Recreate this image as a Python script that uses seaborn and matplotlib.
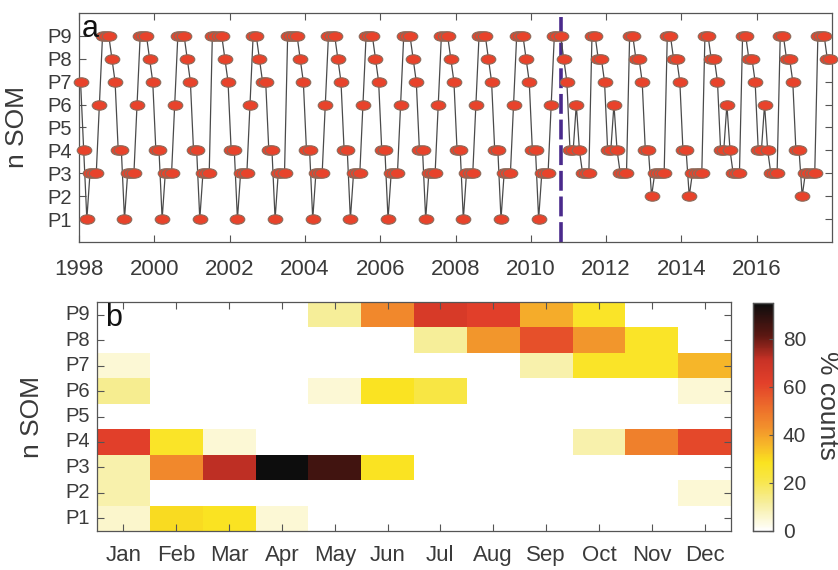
import numpy as np
import pandas as pd
import matplotlib
matplotlib.use("Agg")
import matplotlib.pyplot as plt
import seaborn as sns
from matplotlib.path import Path
from matplotlib.transforms import Affine2D
from matplotlib.colors import LinearSegmentedColormap

# ---------------- data ----------------
# panel a: monthly SOM pattern (Jan..Dec) for each year
s1998 = [7, 4, 1, 3, 3, 3, 6, 9, 9, 9, 8, 7]
s1999 = [4, 4, 1, 3, 3, 3, 6, 9, 9, 9, 8, 7]
s2000 = [4, 4, 1, 3, 3, 3, 6, 9, 9, 9, 8, 7]
s2001 = [4, 4, 1, 3, 3, 3, 9, 9, 9, 9, 8, 7]
s2002 = [4, 4, 1, 3, 3, 3, 6, 9, 9, 8, 7, 7]
s2003 = [4, 4, 1, 3, 3, 3, 9, 9, 9, 9, 8, 7]
s2004 = [4, 4, 1, 3, 3, 3, 6, 9, 9, 9, 8, 7]
s2005 = [4, 4, 1, 3, 3, 3, 6, 9, 9, 9, 8, 7]
s2006 = [4, 4, 1, 3, 3, 3, 6, 9, 9, 9, 8, 7]
s2007 = [4, 4, 1, 3, 3, 3, 6, 9, 9, 9, 8, 7]
s2008 = [4, 4, 1, 3, 3, 3, 6, 9, 9, 9, 8, 7]
s2009 = [4, 4, 1, 3, 3, 3, 6, 9, 9, 9, 8, 7]
s2010 = [4, 4, 1, 3, 3, 3, 6, 9, 9, 9, 8, 7]
s2011 = [4, 4, 6, 4, 3, 3, 3, 9, 9, 8, 8, 7]
s2012 = [4, 4, 6, 4, 3, 3, 3, 9, 9, 8, 8, 7]
s2013 = [4, 4, 2, 3, 3, 3, 3, 9, 9, 8, 8, 7]
s2014 = [4, 4, 2, 3, 3, 3, 3, 9, 9, 8, 8, 7]
s2015 = [4, 4, 6, 4, 3, 3, 3, 9, 9, 8, 8, 7]
s2016 = [4, 4, 6, 4, 3, 3, 3, 9, 9, 8, 8, 7]
s2017 = [4, 4, 2, 3, 3, 3, 3, 9, 9, 9, 8, 8]
years = list(range(1998, 2018))
year_series = [s1998, s1999, s2000, s2001, s2002, s2003, s2004, s2005, s2006, s2007,
               s2008, s2009, s2010, s2011, s2012, s2013, s2014, s2015, s2016, s2017]
shift_year, shift_month = 2010, 10          # regime change marker (dashed line)
year_ticks = list(range(1998, 2017, 2))

# panel b: % counts per month for each SOM pattern
months = ["Jan", "Feb", "Mar", "Apr", "May", "Jun", "Jul", "Aug", "Sep", "Oct", "Nov", "Dec"]
som_labels = ["P1", "P2", "P3", "P4", "P5", "P6", "P7", "P8", "P9"]
pct_P1 = [6, 30, 28, 5, 0, 0, 0, 0, 0, 0, 0, 0]
pct_P2 = [10, 0, 0, 0, 0, 0, 0, 0, 0, 0, 0, 5]
pct_P3 = [10, 45, 72, 95, 86, 28, 0, 0, 0, 0, 0, 0]
pct_P4 = [62, 27, 5, 0, 0, 0, 0, 0, 0, 10, 47, 60]
pct_P5 = [0, 0, 0, 0, 0, 0, 0, 0, 0, 0, 0, 0]
pct_P6 = [13, 0, 0, 0, 5, 28, 22, 0, 0, 0, 0, 5]
pct_P7 = [5, 0, 0, 0, 0, 0, 0, 0, 10, 27, 27, 36]
pct_P8 = [0, 0, 0, 0, 0, 0, 12, 42, 58, 42, 27, 0]
pct_P9 = [0, 0, 0, 0, 12, 45, 66, 62, 38, 27, 0, 0]
cbar_ticks = [0, 20, 40, 60, 80]

# ---------------- style ----------------
plt.rcParams["font.family"] = ["Liberation Sans", "DejaVu Sans"]
TXT = "#3a3a3a"
SPN = "#555555"

fig = plt.figure(figsize=(8.38, 5.70), dpi=100)
W, H = 838, 570
def rect(l, t, r, b):
    return [l / W, 1 - b / H, (r - l) / W, (b - t) / H]

axa = fig.add_axes(rect(79, 13, 832, 242))
axb = fig.add_axes(rect(97, 302, 731, 531))
cax = fig.add_axes(rect(753, 303, 773, 531))

# ---------------- panel a ----------------
t = [y + (m + 0.5) / 12 for y in years for m in range(12)]
som = [v for s in year_series for v in s]
df = pd.DataFrame({"time": t, "som": som})

ell = Path.unit_circle().transformed(Affine2D().scale(1.55, 1.0))
axa.axvline(shift_year + (shift_month - 0.4) / 12, color="#4a2a8c", lw=2.6,
            dashes=(5.5, 1.6), zorder=1)
sns.lineplot(data=df, x="time", y="som", ax=axa, sort=False, estimator=None,
             color="#4a4a4a", linewidth=0.9, marker=ell, markersize=10.5,
             markerfacecolor="#e8432b", markeredgecolor="#8a6a5a",
             markeredgewidth=0.8, clip_on=False, zorder=3, legend=False)
axa.set_xlim(1998, 2018)
axa.set_ylim(0, 10)
axa.set_xticks(year_ticks)
axa.set_xticklabels([str(y) for y in year_ticks], fontsize=16, color=TXT)
axa.set_yticks(range(1, 10))
axa.set_yticklabels(som_labels, fontsize=14.5, color=TXT)
axa.set_xlabel("")
axa.set_ylabel("n SOM", fontsize=19, color=TXT)
axa.yaxis.set_label_coords(-0.066, 0.5)
axa.tick_params(axis="both", direction="in", top=True, right=True, length=5,
                width=0.8, color=SPN)
axa.tick_params(axis="x", pad=12)
axa.tick_params(axis="y", pad=5)
for sp in axa.spines.values():
    sp.set_color(SPN)
    sp.set_linewidth(0.9)
axa.text(0.004, 0.995, "a", transform=axa.transAxes, fontsize=22, color="#111111",
         ha="left", va="top")

# ---------------- panel b ----------------
rows = [pct_P9, pct_P8, pct_P7, pct_P6, pct_P5, pct_P4, pct_P3, pct_P2, pct_P1]
hm = pd.DataFrame(rows, index=som_labels[::-1], columns=months)

cmap = LinearSegmentedColormap.from_list("whyl", [
    (0.00, "#ffffff"), (0.05, "#fcf8d6"), (0.12, "#f6ee9e"), (0.22, "#f8e64a"),
    (0.30, "#fae31f"), (0.37, "#f7bb28"), (0.45, "#f2922c"), (0.55, "#ec6a2b"),
    (0.65, "#e2402a"), (0.75, "#c93226"), (0.86, "#5a1712"), (1.00, "#0d0d0d")])

sns.heatmap(hm, ax=axb, cbar_ax=cax, cmap=cmap, vmin=0, vmax=95, linewidths=0,
            cbar_kws={"ticks": cbar_ticks})
axb.set_xticks(np.arange(12) + 0.5)
axb.set_xticklabels(months, rotation=0, fontsize=16, color=TXT)
axb.set_yticks(np.arange(9) + 0.5)
axb.set_yticklabels(som_labels[::-1], rotation=0, fontsize=14.5, color=TXT)
axb.set_xlabel("")
axb.set_ylabel("n SOM", fontsize=19, color=TXT)
axb.yaxis.set_label_coords(-0.084, 0.5)
axb.tick_params(axis="both", direction="in", top=True, right=True, length=5,
                width=0.8, color=SPN)
axb.tick_params(axis="x", pad=10)
axb.tick_params(axis="y", pad=5)
for sp in axb.spines.values():
    sp.set_visible(True)
    sp.set_color(SPN)
    sp.set_linewidth(0.9)
axb.text(0.012, 0.995, "b", transform=axb.transAxes, fontsize=22, color="#111111",
         ha="left", va="top")

cax.tick_params(direction="in", length=3, width=0.8, color=SPN, labelsize=15,
                labelcolor=TXT, pad=7)
cax.set_yticks(cbar_ticks)
for sp in cax.spines.values():
    sp.set_visible(True)
    sp.set_color(SPN)
    sp.set_linewidth(0.9)
fig.text(827 / W, 1 - 405 / H, "% counts", rotation=270, fontsize=19, color=TXT,
         ha="center", va="center")

fig.savefig("out.png", dpi=100)
